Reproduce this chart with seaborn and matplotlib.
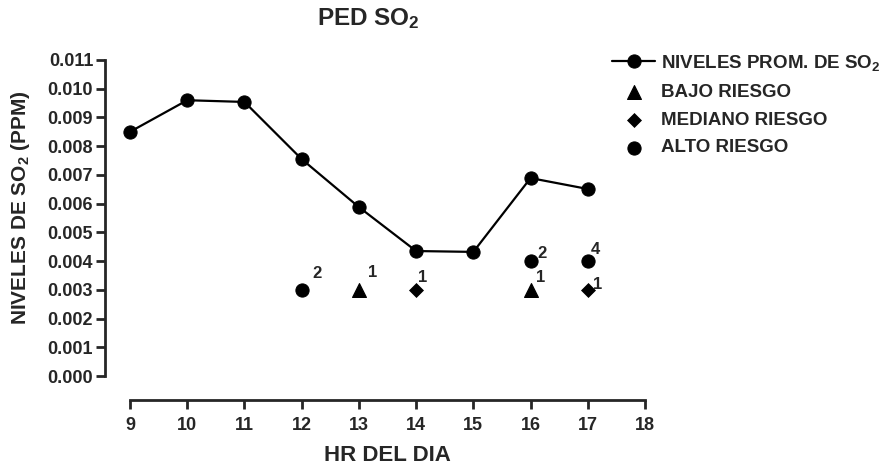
import matplotlib
matplotlib.use("Agg")
import matplotlib.pyplot as plt
import seaborn as sns
import pandas as pd

hours = [9, 10, 11, 12, 13, 14, 15, 16, 17]
prom_so2 = [0.0085, 0.0096, 0.00954, 0.00755, 0.00588, 0.00435, 0.00432, 0.00689, 0.00651]

bajo_x = [13, 16]
bajo_y = [0.003, 0.003]
bajo_n = ["1", "1"]

mediano_x = [14, 17]
mediano_y = [0.003, 0.003]
mediano_n = ["1", "1"]

alto_x = [12, 16, 17]
alto_y = [0.003, 0.004, 0.004]
alto_n = ["2", "2", "4"]

yticks = [0.000, 0.001, 0.002, 0.003, 0.004, 0.005, 0.006, 0.007, 0.008, 0.009, 0.010, 0.011]
xticks = [9, 10, 11, 12, 13, 14, 15, 16, 17, 18]

sns.set_style("ticks")
plt.rcParams['font.family'] = ['Liberation Sans', 'DejaVu Sans']
plt.rcParams['font.weight'] = 'bold'
plt.rcParams['mathtext.fontset'] = 'custom'
plt.rcParams['mathtext.rm'] = 'Liberation Sans:bold'
plt.rcParams['mathtext.default'] = 'rm'

fig = plt.figure(figsize=(8.86, 4.65), dpi=100)
ax = fig.add_axes([130/886, 1 - 376/465, (645-130)/886, (376-60)/465])

df_line = pd.DataFrame({"hr": hours, "so2": prom_so2})
sns.lineplot(data=df_line, x="hr", y="so2", ax=ax, color="black", lw=1.6,
             marker="o", markersize=9.5, markeredgecolor="black",
             label="NIVELES PROM. DE SO$_2$", clip_on=False)

sns.scatterplot(x=bajo_x, y=bajo_y, ax=ax, marker="^", s=100, color="black",
                edgecolor="black", label="BAJO RIESGO", clip_on=False)
sns.scatterplot(x=mediano_x, y=mediano_y, ax=ax, marker="D", s=50, color="black",
                edgecolor="black", label="MEDIANO RIESGO", clip_on=False)
sns.scatterplot(x=alto_x, y=alto_y, ax=ax, marker="o", s=90, color="black",
                edgecolor="black", label="ALTO RIESGO", clip_on=False)

# label offsets in pixels (layout only): left edge dx, center dy (up)
bajo_off = [(9, 17), (5, 12)]
mediano_off = [(2, 12), (5, 5)]
alto_off = [(11, 16), (7, 8), (3, 12)]
for xs, ys, ns, offs in [(bajo_x, bajo_y, bajo_n, bajo_off),
                         (mediano_x, mediano_y, mediano_n, mediano_off),
                         (alto_x, alto_y, alto_n, alto_off)]:
    for x, y, n, (dx, dy) in zip(xs, ys, ns, offs):
        ax.annotate(n, (x, y), xytext=(dx * 0.72, dy * 0.72), textcoords="offset points",
                    fontsize=12, fontweight="bold", ha="left", va="center")

ax.set_xlim(9, 18)
ax.set_ylim(0, 0.011)
ax.set_xticks(xticks)
ax.set_yticks(yticks)
ax.set_yticklabels([f"{v:.3f}" for v in yticks])
ax.tick_params(axis="both", direction="out", length=6.5, width=2, labelsize=13)
ax.tick_params(axis="y", pad=2)
ax.tick_params(axis="x", pad=6)
for lab in ax.get_xticklabels() + ax.get_yticklabels():
    lab.set_fontweight("bold")

sns.despine(ax=ax, offset={"left": 18, "bottom": 17})
ax.spines["left"].set_linewidth(2)
ax.spines["bottom"].set_linewidth(2)

ax.set_xlabel("HR DEL DIA", fontsize=16, fontweight="bold", labelpad=8)
ax.set_ylabel("NIVELES DE SO$_2$ (PPM)", fontsize=15, fontweight="bold")
ax.yaxis.set_label_coords(-0.19, (376-208)/316)
fig.text(368/886, 1 - 19/465, "PED SO$_2$", fontsize=17.5, fontweight="bold", ha="center", va="center")

ax.legend_.remove()
handles, labels = ax.get_legend_handles_labels()
leg = fig.legend(handles, labels, loc="upper left", bbox_to_anchor=(612/886, 1 - 53/465),
                 frameon=False, fontsize=13.5, handlelength=2.3, handletextpad=0.3,
                 labelspacing=0.57, borderaxespad=0, borderpad=0)
for t in leg.get_texts():
    t.set_fontweight("bold")

fig.savefig("out.png", dpi=100)
